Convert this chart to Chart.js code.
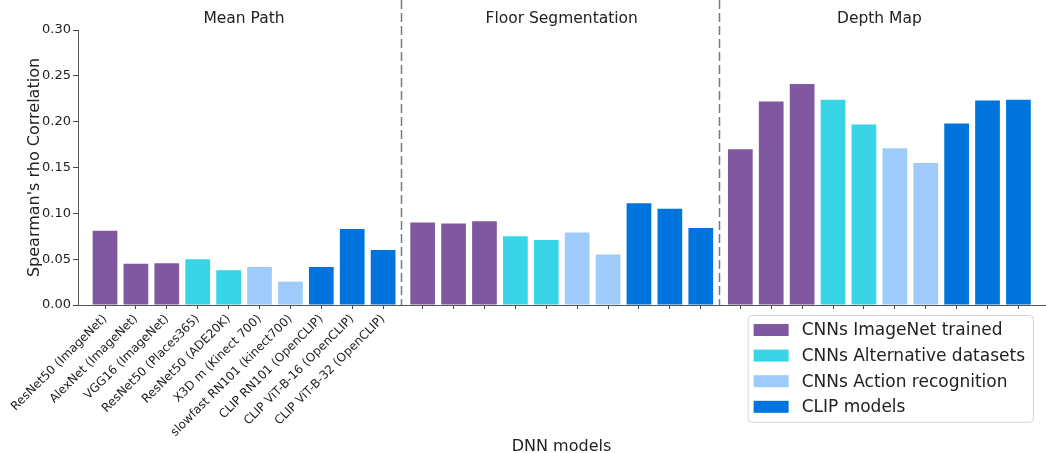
<!DOCTYPE html>
<html>
<head>
<meta charset="utf-8">
<script src="https://cdn.jsdelivr.net/npm/chart.js@4.4.1/dist/chart.umd.min.js"></script>
<style>
  html, body { margin: 0; padding: 0; background: #fff; }
  #wrap { width: 1046px; height: 453px; position: relative; }
</style>
</head>
<body>
<div id="wrap"><canvas id="chart"></canvas></div>
<script>
// data
const models = [
    'ResNet50 (ImageNet)', 'AlexNet (ImageNet)', 'VGG16 (ImageNet)',
    'ResNet50 (Places365)', 'ResNet50 (ADE20K)',
    'X3D m (Kinect 700)', 'slowfast RN101 (kinect700)',
    'CLIP RN101 (OpenCLIP)', 'CLIP ViT-B-16 (OpenCLIP)', 'CLIP ViT-B-32 (OpenCLIP)'
];
const modelFamily = [0, 0, 0, 1, 1, 2, 2, 3, 3, 3];
const families = ['CNNs ImageNet trained', 'CNNs Alternative datasets', 'CNNs Action recognition', 'CLIP models'];
const tasks = ['Mean Path', 'Floor Segmentation', 'Depth Map'];

const meanPath = [0.081, 0.045, 0.0455, 0.050, 0.038, 0.0415, 0.0255, 0.0415, 0.083, 0.060];
const floorSeg = [0.090, 0.089, 0.0915, 0.075, 0.071, 0.079, 0.055, 0.111, 0.105, 0.084];
const depthMap = [0.170, 0.222, 0.241, 0.224, 0.197, 0.171, 0.155, 0.198, 0.223, 0.224];
const yTicks = [0, 0.05, 0.10, 0.15, 0.20, 0.25, 0.30];

const familyColors = ['#8058a0', '#37d5e5', '#9fcbfb', '#0074dd'];
const FONT = "'DejaVu Sans', sans-serif";
const groupStep = 10.28;   // slot spacing between task panels

const taskValues = [meanPath, floorSeg, depthMap];

const datasets = families.map(function (name, f) {
    const pts = [];
    taskValues.forEach(function (vals, g) {
        vals.forEach(function (v, i) {
            if (modelFamily[i] === f) pts.push({ x: g * groupStep + i, y: v });
        });
    });
    return {
        label: name,
        data: pts,
        backgroundColor: familyColors[f],
        borderWidth: 0,
        categoryPercentage: 1,
        barPercentage: 0.8
    };
});

const tickPositions = [];
taskValues.forEach(function (vals, g) {
    vals.forEach(function (v, i) { tickPositions.push(g * groupStep + i); });
});

const panelPlugin = {
    id: 'panels',
    afterDraw(chart) {
        const ctx = chart.ctx;
        const x = chart.scales.x;
        const area = chart.chartArea;
        ctx.save();
        // panel titles
        ctx.fillStyle = '#222';
        ctx.font = '15.5px ' + FONT;
        ctx.textAlign = 'center';
        ctx.textBaseline = 'middle';
        tasks.forEach(function (t, g) {
            ctx.fillText(t, x.getPixelForValue(g * groupStep + 4.5), area.top - 11);
        });
        // dashed separators
        ctx.strokeStyle = '#7a7a7a';
        ctx.lineWidth = 1.5;
        ctx.setLineDash([9, 4]);
        for (let g = 1; g < tasks.length; g++) {
            const px = Math.round(x.getPixelForValue(g * groupStep - (groupStep - 9) / 2 - 0.05)) + 0.5;
            ctx.beginPath();
            ctx.moveTo(px, 0);
            ctx.lineTo(px, area.bottom);
            ctx.stroke();
        }
        ctx.setLineDash([]);

        // legend box
        ctx.font = '17px ' + FONT;
        const labels = chart.data.datasets.map(d => d.label);
        const textW = Math.max.apply(null, labels.map(l => ctx.measureText(l).width));
        const rowH = 25.6;
        const boxW = 6 + 35 + 13 + textW + 8;
        const boxH = 15 + rowH * (labels.length - 1) + 15;
        const bx = area.right - 12 - boxW;
        const by = area.bottom + 10;
        ctx.fillStyle = 'rgba(255,255,255,0.8)';
        ctx.strokeStyle = '#d4d4d4';
        ctx.lineWidth = 1;
        ctx.beginPath();
        ctx.roundRect(bx + 0.5, by + 0.5, boxW, boxH, 4);
        ctx.fill();
        ctx.stroke();
        ctx.textAlign = 'left';
        ctx.textBaseline = 'middle';
        chart.data.datasets.forEach(function (d, i) {
            const cy = by + 15 + i * rowH;
            ctx.fillStyle = d.backgroundColor;
            ctx.fillRect(bx + 6, cy - 6, 35, 12);
            ctx.fillStyle = '#222';
            ctx.fillText(d.label, bx + 6 + 35 + 13, cy + 1);
        });
        ctx.restore();
    }
};

new Chart(document.getElementById('chart').getContext('2d'), {
    type: 'bar',
    data: { datasets: datasets },
    options: {
        responsive: true,
        maintainAspectRatio: false,
        animation: false,
        layout: { padding: { top: 30, right: 1, left: 0, bottom: 0 } },
        plugins: {
            legend: { display: false },
            tooltip: { enabled: false }
        },
        scales: {
            x: {
                type: 'linear',
                stacked: true,
                offset: false,
                min: -0.874,
                max: 2 * groupStep + 9 + 0.86,
                afterBuildTicks: function (scale) {
                    scale.ticks = tickPositions.map(v => ({ value: v }));
                },
                afterFit: function (scale) { scale.height = 148; },
                grid: { offset: false, drawOnChartArea: false, drawTicks: true, tickLength: 4, color: '#444' },
                border: { display: true, color: '#555', width: 1 },
                ticks: {
                    autoSkip: false,
                    minRotation: 45,
                    maxRotation: 45,
                    padding: 3,
                    color: '#222',
                    font: { family: FONT, size: 12 },
                    callback: function (value, index) {
                        return index < models.length ? models[index] : '';
                    }
                },
                title: {
                    display: true,
                    text: 'DNN models',
                    color: '#222',
                    font: { family: FONT, size: 16 },
                    padding: { top: 0, bottom: -3 }
                }
            },
            y: {
                stacked: true,
                min: 0,
                max: 0.30,
                afterBuildTicks: function (scale) {
                    scale.ticks = yTicks.map(v => ({ value: v }));
                },
                afterFit: function (scale) { scale.width = 78; },
                grid: { drawOnChartArea: false, drawTicks: true, tickLength: 5, color: '#444' },
                border: { display: true, color: '#555', width: 1 },
                ticks: {
                    padding: 2,
                    color: '#222',
                    font: { family: FONT, size: 13 },
                    callback: function (value) { return value.toFixed(2); }
                },
                title: {
                    display: true,
                    text: "Spearman's rho Correlation",
                    color: '#222',
                    font: { family: FONT, size: 16 },
                    padding: { top: 25, bottom: 0 }
                }
            }
        }
    },
    plugins: [panelPlugin]
});
</script>
</body>
</html>
